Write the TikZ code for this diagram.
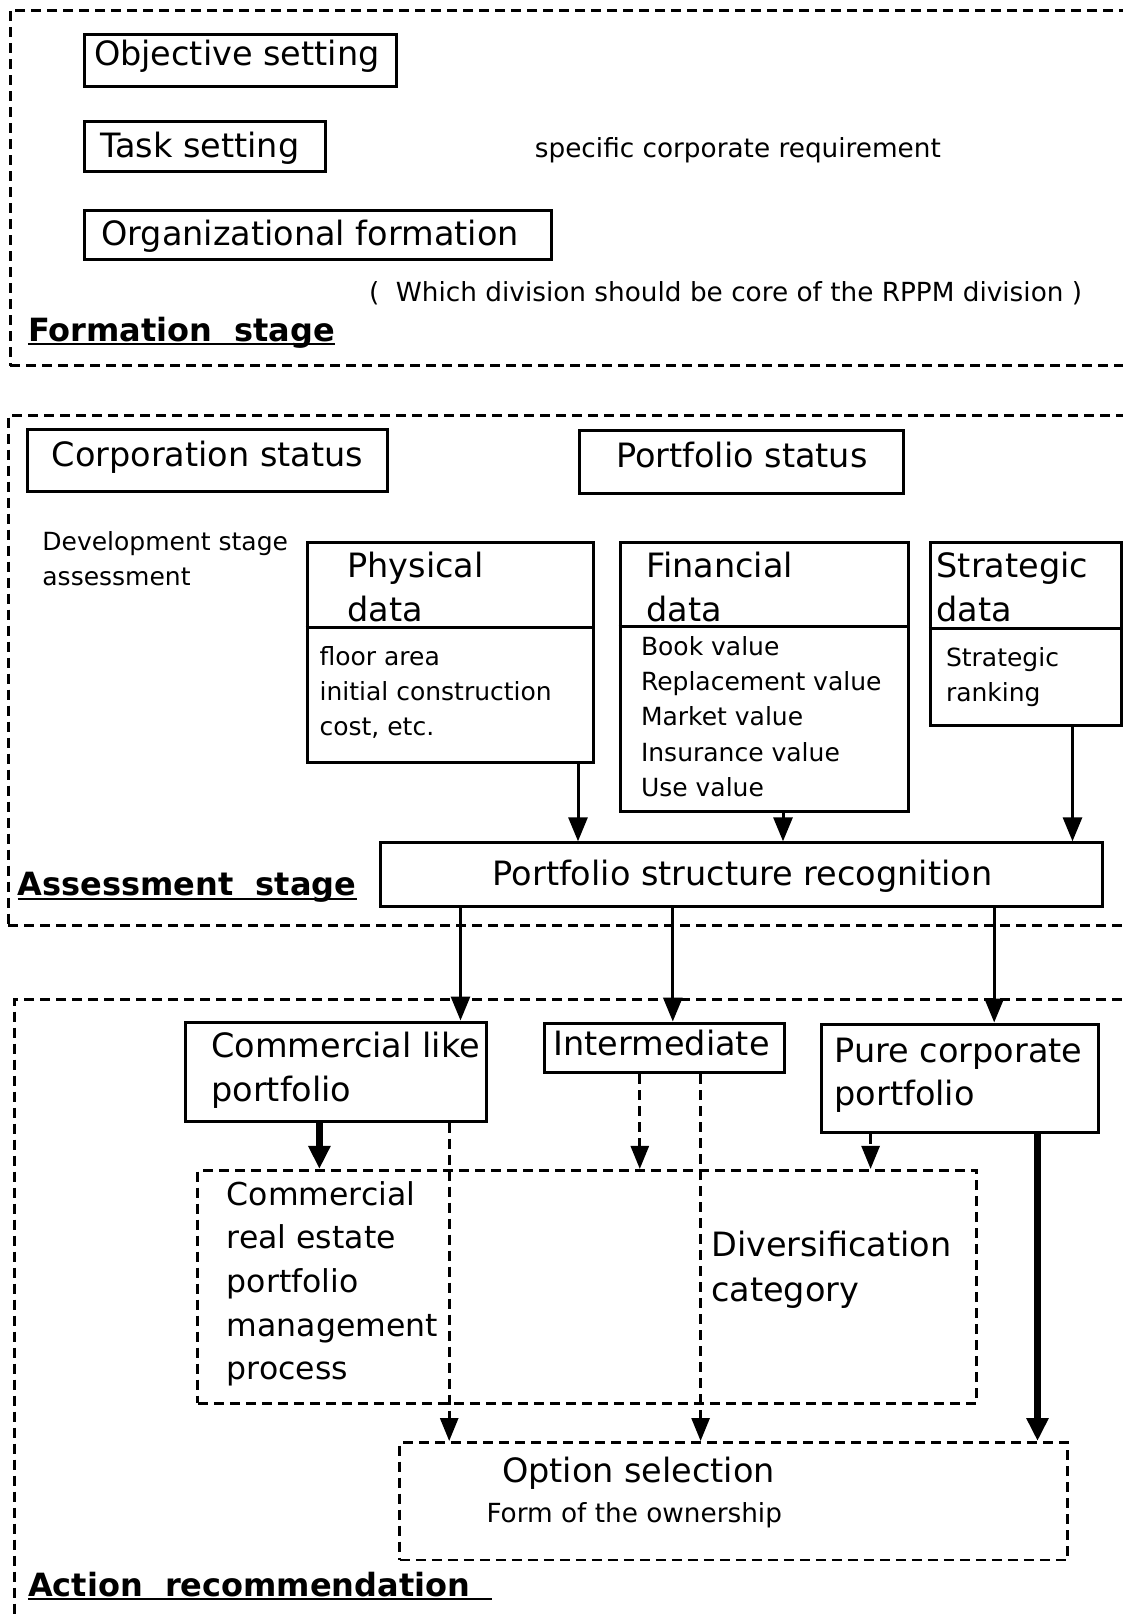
\documentclass[tikz,border=0pt]{standalone}
\usepackage{fontspec}
\setmainfont{DejaVu Sans}
\usetikzlibrary{arrows.meta,fit,calc}
\newcommand\fbig{\fontsize{33.5}{40}\selectfont}
\newcommand\finner{\fontsize{31.5}{38}\selectfont}
\newcommand\fsmall{\fontsize{25}{30}\selectfont}
\newcommand\fmid{\fontsize{26.3}{31}\selectfont}
\newcommand\fstage{\fontsize{32}{38}\selectfont\bfseries}
\begin{document}
\begin{tikzpicture}[x=1pt,y=-1pt,
  box/.style={draw,line width=3pt,inner sep=0pt},
  dbox/.style={draw,line width=2.8pt,dash pattern=on 10pt off 6pt,inner sep=0pt},
  big/.style={anchor=west,inner sep=0pt,font=\fbig,text height=24pt,text depth=0pt},
  innertxt/.style={anchor=west,inner sep=0pt,font=\finner,text height=23pt,text depth=0pt},
  small/.style={anchor=west,inner sep=0pt,font=\fsmall,text height=18pt,text depth=0pt},
  mid/.style={anchor=west,inner sep=0pt,font=\fmid,text height=19pt,text depth=0pt},
  stagelbl/.style={anchor=west,inner sep=0pt,font=\fstage,text height=23pt,text depth=0pt},
  uline/.style={line width=2.4pt},
  arr/.style={line width=3pt,-{Triangle[width=19pt,length=24pt]}},
  tarr/.style={line width=6.5pt,-{Triangle[width=21pt,length=23pt]}},
  darr/.style={line width=2.8pt,dash pattern=on 10pt off 6pt,-{Triangle[width=18pt,length=23pt]}},
]
\clip (0,0) rectangle (1123,1615);
\fill[white] (0,0) rectangle (1123,1615);

% ---------- Formation stage ----------
\node[dbox,fit={(10.3,10.3) (1160,365.8)}] (formation) {};
\node[box,fit={(84.5,34) (396.7,86.5)}] (obj) {};
\node[big] (tobj) at (93.8,53.6) {Objective setting};
\node[box,fit={(84.5,121.6) (325.6,171)}] (task) {};
\node[big] (ttask) at (100,145) {Task setting};
\node[box,fit={(84.5,210) (551.2,259.6)}] (org) {};
\node[big] (torg) at (101,233) {Organizational formation};
\node[mid] (tspec) at (534.7,148.4) {specific corporate requirement};
\node[mid] (twhich) at (368.8,291.6) {(\ \ Which division should be core of the RPPM division\ )};
\node[stagelbl] (tfs) at (27.8,329.7) {Formation\ \ stage};
\draw[uline] ($(tfs.west)+(0,14.5)$) -- ($(tfs.east)+(0,14.5)$);

% ---------- Assessment stage ----------
\node[dbox,fit={(8.2,415.2) (1160,925.2)}] (assessment) {};
\node[box,fit={(27.8,429.6) (387.4,491.5)}] (corp) {};
\node[big] (tcorp) at (51.5,454.4) {Corporation status};
\node[box,fit={(579,430.7) (903.6,493.5)}] (pstat) {};
\node[big] (tpstat) at (616,455.4) {Portfolio status};
\node[small] (tdev1) at (42.2,541) {Development stage};
\node[small] (tdev2) at (42.2,576) {assessment};

\node[box,fit={(307,542) (593.5,762.4)}] (phys) {};
\draw[line width=3pt] (phys.west |- 0,627.5) -- (phys.east |- 0,627.5);
\node[big] (tphys1) at (347.2,565.6) {Physical};
\node[big] (tphys2) at (347.2,609) {data};
\node[small] (tphys3) at (319.4,656.3) {floor area};
\node[small] (tphys4) at (319.4,691.3) {initial construction};
\node[small] (tphys5) at (319.4,726.4) {cost, etc.};

\node[box,fit={(620.2,542) (908.7,811.9)}] (fin) {};
\draw[line width=3pt] (fin.west |- 0,626.4) -- (fin.east |- 0,626.4);
\node[big] (tfin1) at (646,565.6) {Financial};
\node[big] (tfin2) at (646,609) {data};
\node[small] (tfin3) at (640.8,646) {Book value};
\node[small] (tfin4) at (640.8,681) {Replacement value};
\node[small] (tfin5) at (640.8,716) {Market value};
\node[small] (tfin6) at (640.8,752) {Insurance value};
\node[small] (tfin7) at (640.8,787) {Use value};

\node[box,fit={(930.4,542) (1121,725.3)}] (strat) {};
\draw[line width=3pt] (strat.west |- 0,628.5) -- (strat.east |- 0,628.5);
\node[big] (tstrat1) at (936.5,565.6) {Strategic};
\node[big] (tstrat2) at (936.5,609) {data};
\node[small] (tstrat3) at (945.8,657.3) {Strategic};
\node[small] (tstrat4) at (945.8,692.4) {ranking};

\node[box,fit={(380.2,842.8) (1102.4,906.7)}] (psr) {};
\node[big] (tpsr) at (492.5,873.7) {Portfolio structure recognition};
\node[stagelbl] (tas) at (17.5,884) {Assessment\ \ stage};
\draw[uline] ($(tas.west)+(0,15)$) -- ($(tas.east)+(0,15)$);

\coordinate (xa) at (578,0);
\coordinate (xb) at (783,0);
\coordinate (xc) at (1072.5,0);
\draw[arr] (phys.south -| xa) -- (psr.north -| xa);
\draw[arr] (fin.south -| xb) -- (psr.north -| xb);
\draw[arr] (strat.south -| xc) -- (psr.north -| xc);

% ---------- Action recommendation ----------
\node[dbox,fit={(14.4,999.4) (1160,1640)}] (action) {};
\node[box,fit={(185.5,1022) (486.3,1121)}] (comm) {};
\node[big] (tcomm1) at (211.2,1045.8) {Commercial like};
\node[big] (tcomm2) at (211.2,1089) {portfolio};
\node[box,fit={(544,1023) (784,1072.6)}] (inter) {};
\node[big] (tinter) at (553.3,1043.7) {Intermediate};
\node[box,fit={(821.2,1024) (1098.3,1132.3)}] (pure) {};
\node[big] (tpure1) at (834.5,1050) {Pure corporate};
\node[big] (tpure2) at (834.5,1093) {portfolio};

\node[dbox,fit={(197.8,1170.3) (976.7,1403.3)}] (inner) {};
\node[innertxt] (tin1) at (226.7,1194) {Commercial};
\node[innertxt] (tin2) at (226.7,1237.4) {real estate};
\node[innertxt] (tin3) at (226.7,1280.7) {portfolio};
\node[innertxt] (tin4) at (226.7,1325) {management};
\node[innertxt] (tin5) at (226.7,1368.2) {process};
\node[big] (tdiv1) at (711,1244.6) {Diversification};
\node[big] (tdiv2) at (711,1289) {category};

\node[dbox,fit={(399.8,1442.4) (1067.4,1560)}] (opt) {};
\node[big] (topt1) at (501.8,1470.2) {Option selection};
\node[mid] (topt2) at (486.3,1512.5) {Form of the ownership};

\node[stagelbl] (tar) at (27.8,1584.6) {Action\ \ recommendation};
\draw[uline] ($(tar.west)+(0,14.5)$) -- ($(tar.east)+(22,14.5)$);

\coordinate (xd) at (460.5,0);
\coordinate (xe) at (672.8,0);
\coordinate (xf) at (994.2,0);
\draw[arr] (psr.south -| xd) -- (comm.north -| xd);
\draw[arr] (psr.south -| xe) -- (inter.north -| xe);
\draw[arr] (psr.south -| xf) -- (pure.north -| xf);

\coordinate (xg) at (319.4,0);
\coordinate (xh) at (449.2,0);
\coordinate (xi) at (639.8,0);
\coordinate (xj) at (700.6,0);
\coordinate (xk) at (870.6,0);
\coordinate (xl) at (1037.5,0);
\draw[tarr] (comm.south -| xg) -- (inner.north -| xg);
\draw[darr] (comm.south -| xh) -- (opt.north -| xh);
\draw[darr] (inter.south -| xi) -- (inner.north -| xi);
\draw[darr] (inter.south -| xj) -- (opt.north -| xj);
\draw[darr] (pure.south -| xk) -- (inner.north -| xk);
\draw[tarr] (pure.south -| xl) -- (opt.north -| xl);
\end{tikzpicture}
\end{document}
